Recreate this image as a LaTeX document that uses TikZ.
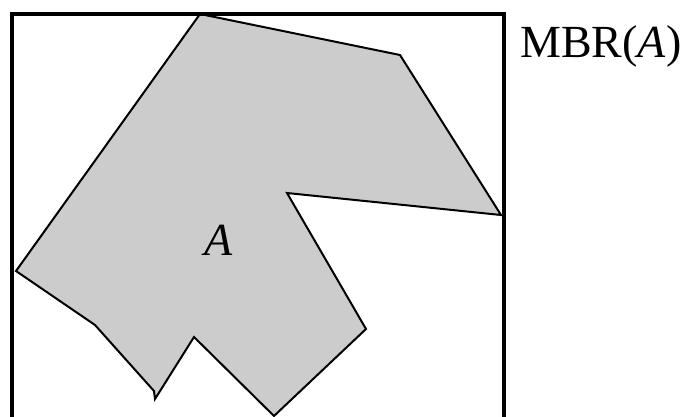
\documentclass[tikz,border=0pt]{standalone}
\usepackage{fontspec}
\setmainfont{Liberation Serif}
\usepackage{tikz}
\usetikzlibrary{positioning}

\begin{document}
\begin{tikzpicture}[x=1pt, y=-1pt]
    \useasboundingbox (0,0) rectangle (690,417);
    \clip (0,0) rectangle (690,417);

    % Region A
    \filldraw[fill=black!20, draw=black, line width=2pt, line join=miter]
        (200,14) -- (400,55) -- (501,215) -- (287,193) -- (366,329)
        -- (274,416) -- (194,337) -- (155,399) -- (154,391)
        -- (95,325) -- (16,271) -- cycle;
    \node[font=\fontsize{46}{55}\selectfont\itshape] (regionA) at (219,240) {A};

    % Minimum bounding rectangle
    \draw[line width=4pt] (11.5,440) -- (11.5,14) -- (504,14) -- (504,440);
    \node[font=\fontsize{46}{55}\selectfont, anchor=base west, inner sep=0pt]
        (mbr) at (520,58) {MBR(\textit{A})};
\end{tikzpicture}
\end{document}
